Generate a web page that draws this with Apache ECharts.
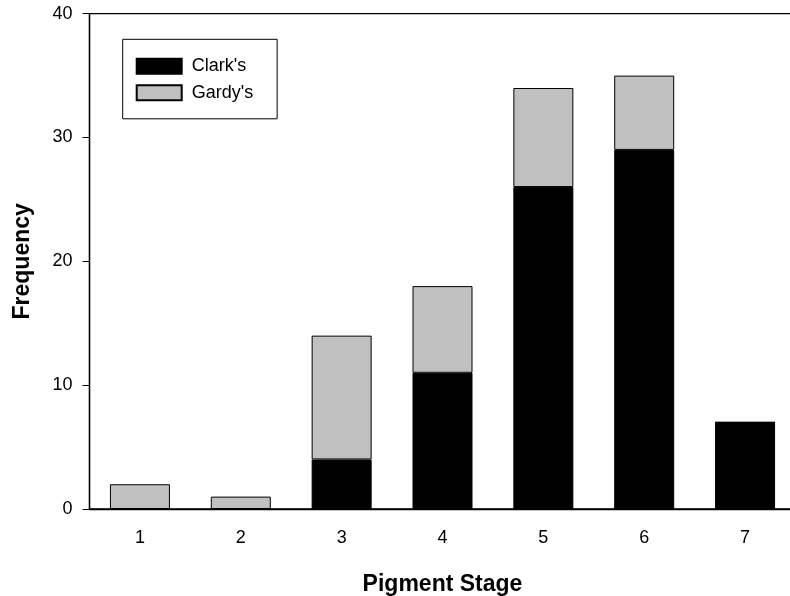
<!DOCTYPE html>
<html>
<head>
<meta charset="utf-8">
<script src="https://cdn.jsdelivr.net/npm/echarts@6/dist/echarts.min.js"></script>
<style>
html,body{margin:0;padding:0;background:#fff;}
#chart{width:790px;height:596px;}
</style>
</head>
<body>
<div id="chart"></div>
<script>
var categories = ['1', '2', '3', '4', '5', '6', '7'];
var clarks = [0, 0, 4, 11, 26, 29, 7];
var gardys = [2, 1, 10, 7, 8, 6, 0];
var yTicks = [0, 10, 20, 30, 40];

var FONT = 'Liberation Sans, Arial, sans-serif';
var chart = echarts.init(document.getElementById('chart'));
chart.setOption({
  backgroundColor: '#fff',
  animation: false,
  textStyle: { fontFamily: FONT },
  grid: {
    left: 89.5, top: 13.7, width: 706, bottom: 87,
    outerBoundsMode: 'none',
    containLabel: false,
    show: true, borderColor: '#000', borderWidth: 1.3, backgroundColor: 'transparent'
  },
  legend: {
    orient: 'vertical',
    left: 122.7, top: 39.3,
    padding: [18, 24, 17, 13],
    borderColor: '#000', borderWidth: 1,
    backgroundColor: '#fff',
    itemWidth: 45, itemHeight: 15, itemGap: 8.5,
    icon: 'rect',
    textStyle: { fontSize: 18, color: '#000', fontFamily: FONT, padding: [0, 0, 0, 5] },
    data: ["Clark's", "Gardy's"]
  },
  xAxis: {
    type: 'category',
    data: categories,
    name: 'Pigment Stage',
    nameLocation: 'middle',
    nameGap: 64,
    nameTextStyle: { fontSize: 23, fontWeight: 'bold', color: '#000', fontFamily: FONT },
    axisLine: { lineStyle: { color: '#000', width: 1.3 } },
    axisTick: { alignWithLabel: true, length: 6, lineStyle: { color: '#000' } },
    axisLabel: { fontSize: 18, color: '#000', margin: 20, fontFamily: FONT },
    splitLine: { show: false }
  },
  yAxis: {
    type: 'value',
    min: yTicks[0], max: yTicks[yTicks.length - 1], interval: 10,
    name: 'Frequency',
    nameLocation: 'middle',
    nameGap: 55,
    nameTextStyle: { fontSize: 23, fontWeight: 'bold', color: '#000', fontFamily: FONT },
    axisLine: { show: true, lineStyle: { color: '#000', width: 1.3 } },
    axisTick: { show: true, length: 7, lineStyle: { color: '#000' } },
    axisLabel: { fontSize: 18, color: '#000', margin: 17, fontFamily: FONT },
    splitLine: { show: false }
  },
  series: [
    {
      name: "Clark's", type: 'bar', stack: 'total', barWidth: 60,
      data: clarks,
      itemStyle: { color: '#000', borderColor: '#000', borderWidth: 1 }
    },
    {
      name: "Gardy's", type: 'bar', stack: 'total', barWidth: 60,
      data: gardys,
      itemStyle: { color: '#c0c0c0', borderColor: '#000', borderWidth: 1 }
    }
  ]
});
</script>
</body>
</html>
